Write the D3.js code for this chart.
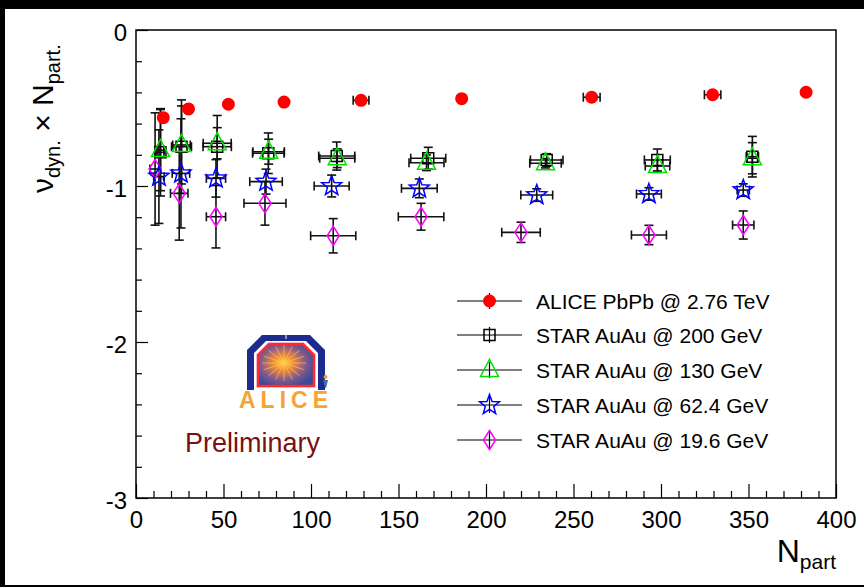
<!DOCTYPE html>
<html>
<head>
<meta charset="utf-8">
<script src="https://cdn.jsdelivr.net/npm/d3@7"></script>
<style>
  html, body { margin: 0; padding: 0; background: #000; }
  svg { display: block; }
  text { font-family: "Liberation Sans", Arial, Helvetica, sans-serif; }
</style>
</head>
<body>
<svg id="chart" width="864" height="587"></svg>
<script>
// ---------------- DATA ----------------
const xTickValues = [0, 50, 100, 150, 200, 250, 300, 350, 400];
const yTickValues = [0, -1, -2, -3];

// ALICE PbPb @ 2.76 TeV
const aliceN    = [15.6, 30.0, 52.8, 84.6, 128.6, 186.1, 260.4, 329.5, 382.9];
const aliceV    = [-0.562, -0.506, -0.476, -0.462, -0.451, -0.440, -0.431, -0.415, -0.399];
const aliceXerr = [0, 0, 0, 0, 4.5, 1.3, 4.8, 4.7, 0];
const aliceYerr = [0, 0, 0, 0, 0.01, 0.01, 0.01, 0.02, 0];

// STAR AuAu @ 200 GeV
const s200N    = [14.0, 26.0, 46.4, 75.6, 114.7, 167.0, 234.7, 297.9, 352.2];
const s200V    = [-0.784, -0.748, -0.748, -0.790, -0.808, -0.822, -0.833, -0.833, -0.812];
const s200Xerr = [2.0, 5.7, 8.1, 9.0, 10.3, 10.0, 9.3, 7.4, 3.5];
const s200Yerr = [0.28, 0.30, 0.20, 0.13, 0.09, 0.07, 0.04, 0.07, 0.13];

// STAR AuAu @ 130 GeV
const s130N    = [14.0, 26.0, 46.4, 75.8, 115.0, 166.0, 234.0, 298.0, 352.2];
const s130V    = [-0.770, -0.737, -0.726, -0.780, -0.822, -0.851, -0.854, -0.872, -0.822];
const s130Xerr = [2.0, 5.0, 8.0, 9.0, 10.0, 10.0, 9.0, 7.0, 3.0];
const s130Yerr = [0.26, 0.25, 0.10, 0.08, 0.06, 0.05, 0.03, 0.04, 0.10];

// STAR AuAu @ 62.4 GeV
const s62N    = [13.1, 25.7, 45.7, 74.3, 111.8, 161.9, 229.0, 293.1, 347.0];
const s62V    = [-0.940, -0.919, -0.951, -0.972, -1.000, -1.015, -1.058, -1.051, -1.026];
const s62Xerr = [3.0, 5.0, 5.5, 9.3, 10.0, 10.2, 9.1, 7.1, 3.5];
const s62Yerr = [0.30, 0.35, 0.12, 0.08, 0.07, 0.06, 0.04, 0.04, 0.04];

// STAR AuAu @ 19.6 GeV
const s19N    = [10.9, 24.7, 45.7, 73.7, 112.7, 162.9, 220.0, 293.1, 347.0];
const s19V    = [-0.891, -1.047, -1.197, -1.111, -1.319, -1.197, -1.297, -1.314, -1.250];
const s19Xerr = [3.0, 5.0, 5.5, 12.0, 12.9, 13.0, 11.0, 10.0, 6.1];
const s19Yerr = [0.36, 0.30, 0.20, 0.14, 0.11, 0.086, 0.065, 0.062, 0.09];

const legendLabels = [
  "ALICE PbPb @ 2.76 TeV",
  "STAR AuAu @ 200 GeV",
  "STAR AuAu @ 130 GeV",
  "STAR AuAu @ 62.4 GeV",
  "STAR AuAu @ 19.6 GeV"
];

// ---------------- LAYOUT ----------------
const W = 864, H = 587;
const plot = { left: 136, right: 836, top: 30, bottom: 498 };

const svg = d3.select("#chart");
svg.append("rect").attr("x", 0).attr("y", 0).attr("width", W).attr("height", H).attr("fill", "#000");
svg.append("rect").attr("x", 5).attr("y", 9).attr("width", W - 5).attr("height", 576).attr("fill", "#fff");

const x = d3.scaleLinear().domain([0, 400]).range([plot.left, plot.right]);
const y = d3.scaleLinear().domain([-3, 0]).range([plot.bottom, plot.top]);

// ---------------- AXES ----------------
const xMinor = d3.range(0, 401, 10).filter(v => v % 50 !== 0);
const yMinor = d3.range(0, 16).map(i => -i * 0.2).filter((v, i) => i % 5 !== 0);

const gx = svg.append("g").attr("transform", `translate(0,${plot.bottom})`)
  .call(d3.axisBottom(x).tickValues(xTickValues).tickSize(-14).tickPadding(13).tickFormat(d3.format("d")));
const gxm = svg.append("g").attr("transform", `translate(0,${plot.bottom})`)
  .call(d3.axisBottom(x).tickValues(xMinor).tickSize(-7).tickFormat(""));
const gy = svg.append("g").attr("transform", `translate(${plot.left},0)`)
  .call(d3.axisLeft(y).tickValues(yTickValues).tickSize(-12).tickPadding(9).tickFormat(d => d === 0 ? "0" : String(d)));
const gym = svg.append("g").attr("transform", `translate(${plot.left},0)`)
  .call(d3.axisLeft(y).tickValues(yMinor).tickSize(-6).tickFormat(""));

[gx, gxm, gy, gym].forEach(g => {
  g.select(".domain").remove();
  g.selectAll("line").attr("stroke", "#000").attr("stroke-width", 1.2);
});
gx.selectAll("text").attr("font-size", 24).attr("fill", "#000")
  .attr("font-family", "Liberation Sans, Arial, sans-serif");
gy.selectAll("text").attr("font-size", 24).attr("fill", "#000").attr("dy", "0.42em")
  .attr("font-family", "Liberation Sans, Arial, sans-serif");

// frame
svg.append("rect")
  .attr("x", plot.left).attr("y", plot.top)
  .attr("width", plot.right - plot.left).attr("height", plot.bottom - plot.top)
  .attr("fill", "none").attr("stroke", "#000").attr("stroke-width", 1.5);

// ---------------- AXIS TITLES ----------------
const xt = svg.append("text").attr("x", plot.right).attr("y", 562)
  .attr("text-anchor", "end").attr("fill", "#000");
xt.append("tspan").attr("font-size", 32).text("N");
xt.append("tspan").attr("font-size", 21).attr("dy", 7).text("part");

const yt = svg.append("text")
  .attr("transform", "translate(53,193) rotate(-90)")
  .attr("text-anchor", "start").attr("fill", "#000");
yt.append("tspan").attr("font-size", 30).text("ν");
yt.append("tspan").attr("font-size", 20).attr("dy", 7).text("dyn.");
yt.append("tspan").attr("font-size", 30).attr("dy", -7).text(" × N");
yt.append("tspan").attr("font-size", 20).attr("dy", 7).text("part.");

// ---------------- SYMBOLS ----------------
const symSquare = { draw(ctx, s) { const h = s / 2; ctx.moveTo(-h, -h); ctx.lineTo(h, -h); ctx.lineTo(h, h); ctx.lineTo(-h, h); ctx.closePath(); } };
const symTriangle = { draw(ctx, s) { const w = s / 2, hh = s * 0.95; ctx.moveTo(0, -hh * 0.62); ctx.lineTo(w, hh * 0.38); ctx.lineTo(-w, hh * 0.38); ctx.closePath(); } };
const symStar = { draw(ctx, s) {
  const R = s / 2, r = R * 0.42;
  for (let i = 0; i < 10; i++) {
    const a = -Math.PI / 2 + i * Math.PI / 5;
    const rr = i % 2 === 0 ? R : r;
    const px = rr * Math.cos(a), py = rr * Math.sin(a);
    if (i === 0) ctx.moveTo(px, py); else ctx.lineTo(px, py);
  }
  ctx.closePath();
} };
const symDiamond = { draw(ctx, s) { const hw = s * 0.32, hh = s / 2; ctx.moveTo(0, -hh); ctx.lineTo(hw, 0); ctx.lineTo(0, hh); ctx.lineTo(-hw, 0); ctx.closePath(); } };
const symCircle = { draw(ctx, s) { ctx.moveTo(s / 2, 0); ctx.arc(0, 0, s / 2, 0, 2 * Math.PI); } };

const series = [
  { N: s19N, V: s19V, xe: s19Xerr, ye: s19Yerr, sym: symDiamond, size: 19, fill: "none", stroke: "#ff00ff" },
  { N: s62N, V: s62V, xe: s62Xerr, ye: s62Yerr, sym: symStar, size: 21, fill: "none", stroke: "#0000ff" },
  { N: s200N, V: s200V, xe: s200Xerr, ye: s200Yerr, sym: symSquare, size: 11, fill: "none", stroke: "#000" },
  { N: s130N, V: s130V, xe: s130Xerr, ye: s130Yerr, sym: symTriangle, size: 18, fill: "none", stroke: "#00e000" },
  { N: aliceN, V: aliceV, xe: aliceXerr, ye: aliceYerr, sym: symCircle, size: 11.5, fill: "#ff0000", stroke: "#ff0000" }
];

const cap = 4.5;
const gErr = svg.append("g").attr("stroke", "#111").attr("stroke-width", 1.6).attr("fill", "none");
const gPts = svg.append("g");

series.forEach(s => {
  s.N.forEach((n, i) => {
    const cx = x(n), cy = y(s.V[i]);
    if (s.xe[i] > 0) {
      const x0 = x(n - s.xe[i]), x1 = x(n + s.xe[i]);
      gErr.append("line").attr("x1", x0).attr("x2", x1).attr("y1", cy).attr("y2", cy);
      gErr.append("line").attr("x1", x0).attr("x2", x0).attr("y1", cy - cap).attr("y2", cy + cap);
      gErr.append("line").attr("x1", x1).attr("x2", x1).attr("y1", cy - cap).attr("y2", cy + cap);
    }
    if (s.ye[i] > 0) {
      const y0 = y(s.V[i] + s.ye[i]), y1 = y(s.V[i] - s.ye[i]);
      gErr.append("line").attr("x1", cx).attr("x2", cx).attr("y1", y0).attr("y2", y1);
      gErr.append("line").attr("x1", cx - cap).attr("x2", cx + cap).attr("y1", y0).attr("y2", y0);
      gErr.append("line").attr("x1", cx - cap).attr("x2", cx + cap).attr("y1", y1).attr("y2", y1);
    }
  });
});

series.forEach(s => {
  gPts.selectAll(null).data(s.N.map((n, i) => [n, s.V[i]])).join("path")
    .attr("transform", d => `translate(${x(d[0])},${y(d[1])})`)
    .attr("d", d3.symbol().type(s.sym).size(s.size))
    .attr("fill", s.fill).attr("stroke", s.stroke).attr("stroke-width", 1.5);
});

// ---------------- LEGEND ----------------
const legendOrder = [series[4], series[2], series[3], series[1], series[0]];
const legY = [301, 335, 370, 405, 440];
const lg = svg.append("g");
legendOrder.forEach((s, i) => {
  const ly = legY[i];
  lg.append("line").attr("x1", 457).attr("x2", 522).attr("y1", ly).attr("y2", ly).attr("stroke", "#000").attr("stroke-width", 1.2);
  lg.append("line").attr("x1", 489.5).attr("x2", 489.5).attr("y1", ly - 8).attr("y2", ly + 8).attr("stroke", "#000").attr("stroke-width", 1.2);
  lg.append("path").attr("transform", `translate(489.5,${ly})`)
    .attr("d", d3.symbol().type(s.sym).size(s.size))
    .attr("fill", s.fill).attr("stroke", s.stroke).attr("stroke-width", 1.5);
  lg.append("text").attr("x", 536).attr("y", ly + 7.5).attr("font-size", 21).attr("fill", "#000").text(legendLabels[i]);
});

// ---------------- ALICE LOGO ----------------
const defs = svg.append("defs");
const rg = defs.append("radialGradient").attr("id", "core").attr("cx", "45%").attr("cy", "45%").attr("r", "60%");
rg.append("stop").attr("offset", "0%").attr("stop-color", "#ffd23a");
rg.append("stop").attr("offset", "30%").attr("stop-color", "#f08a3a");
rg.append("stop").attr("offset", "65%").attr("stop-color", "#8a5a8a");
rg.append("stop").attr("offset", "100%").attr("stop-color", "#3a4a9a");

const logo = svg.append("g");
logo.append("path").attr("d", "M247,390 L247,350 L262,335 L310,335 L325,350 L325,390 L318,390 L318,353 L306,341 L266,341 L254,353 L254,390 Z")
  .attr("fill", "#1c2b8e");
logo.append("path").attr("d", "M256,388 L256,354 L268,342 L304,342 L316,354 L316,388 Z")
  .attr("fill", "#e8ecff");
logo.append("path").attr("d", "M258,386 L258,355 L269,344 L303,344 L314,355 L314,386 Z")
  .attr("fill", "url(#core)").attr("stroke", "#ff2a2a").attr("stroke-width", 2.5);
const rays = logo.append("g").attr("stroke", "#ffcc55").attr("stroke-width", 0.8).attr("opacity", 0.8);
d3.range(0, 16).forEach(k => {
  const a = k * Math.PI / 8;
  rays.append("line").attr("x1", 284).attr("y1", 363).attr("x2", 284 + 22 * Math.cos(a)).attr("y2", 363 + 18 * Math.sin(a));
});
logo.append("line").attr("x1", 286).attr("x2", 286).attr("y1", 335).attr("y2", 339).attr("stroke", "#fff").attr("stroke-width", 1);
logo.append("circle").attr("cx", 325.5).attr("cy", 377).attr("r", 2).attr("fill", "#f0a030");
logo.append("path").attr("d", "M323,380 L328,380 L326,388 L325,388 Z").attr("fill", "#3a6ab0");
logo.append("text").attr("x", 286).attr("y", 408).attr("text-anchor", "middle")
  .attr("font-size", 23).attr("font-weight", "bold").attr("letter-spacing", 5)
  .attr("fill", "#f7a233").text("ALICE");

svg.append("text").attr("x", 185).attr("y", 452).attr("font-size", 27)
  .attr("fill", "#7a1010").text("Preliminary");
</script>
</body>
</html>
